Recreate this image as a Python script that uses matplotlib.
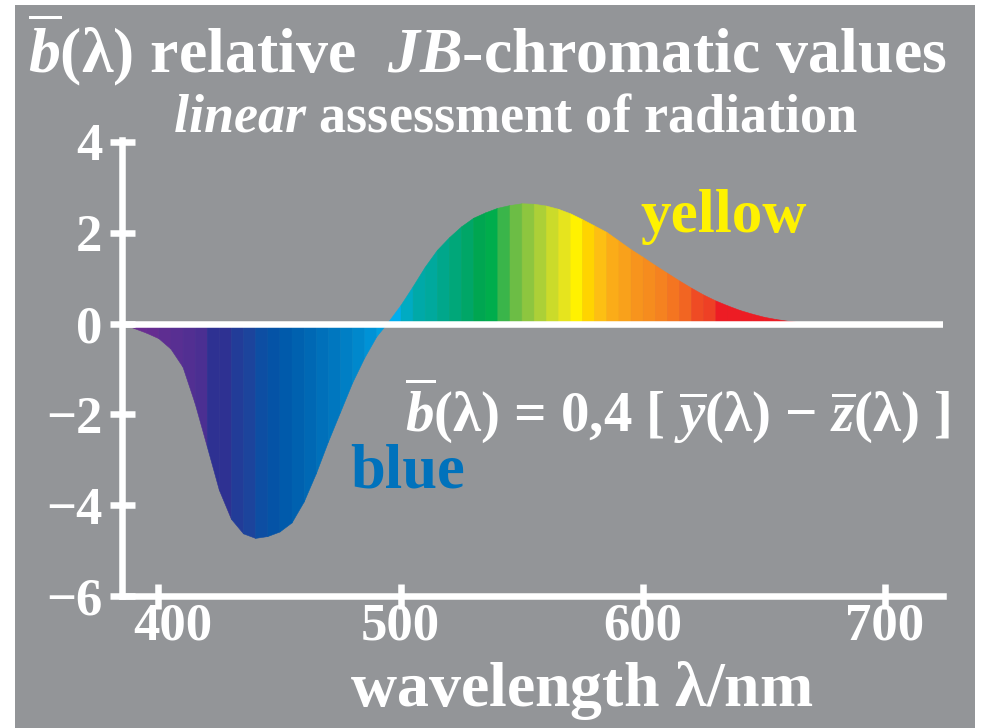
import matplotlib
matplotlib.use("Agg")
import matplotlib.pyplot as plt
from matplotlib.patches import Rectangle
from matplotlib.transforms import ScaledTranslation

# b(lambda) values, 5 nm steps
wavelength = [385, 390, 395, 400, 405, 410, 415, 420, 425, 430, 435, 440, 445, 450,
              455, 460, 465, 470, 475, 480, 485, 490, 495, 500, 505, 510, 515, 520,
              525, 530, 535, 540, 545, 550, 555, 560, 565, 570, 575, 580, 585, 590,
              595, 600, 605, 610, 615, 620, 625, 630, 635, 640, 645, 650, 655, 660,
              665, 670]
b_value = [0.0, -0.1, -0.2, -0.32, -0.55, -0.95, -1.75, -2.7, -3.66, -4.3, -4.62,
           -4.72, -4.68, -4.58, -4.38, -3.92, -3.3, -2.6, -1.95, -1.3, -0.75, -0.28,
           0.05, 0.41, 0.82, 1.25, 1.62, 1.9, 2.14, 2.33, 2.45, 2.55, 2.61, 2.65,
           2.64, 2.6, 2.53, 2.43, 2.3, 2.16, 2.02, 1.83, 1.64, 1.47, 1.29, 1.12,
           0.95, 0.79, 0.64, 0.51, 0.4, 0.3, 0.22, 0.15, 0.1, 0.06, 0.03, 0.0]

# colour of each 5 nm strip (strip i goes from wavelength[i] to wavelength[i+1])
strip_colors = ['#6f2c91', '#6a2d91', '#662d91', '#5e2e91', '#582f92', '#522f92',
                '#4b2f92', '#2e3192', '#2e3192', '#223c98', '#1c449c', '#0d4ea3',
                '#0553a6', '#005aab', '#0061af', '#0068b4', '#0070ba', '#0077bf',
                '#007fc5', '#0088cc', '#0092d6', '#009fe0', '#00aeef', '#00abc2',
                '#00a9a8', '#00a99d', '#00a78b', '#00a779', '#00a667', '#00a651',
                '#00ad4c', '#3ab54a', '#6cbd45', '#8dc63f', '#acd037', '#cbdb2a',
                '#e6e41e', '#fff200', '#ffd400', '#fdbf13', '#fbac18', '#f9a11b',
                '#f7941d', '#f68c1e', '#f58220', '#f47521', '#f26522', '#ef4b24',
                '#ee4025', '#ed1c24', '#ed1c24', '#ed1c24', '#ec1c24', '#ec1c24',
                '#eb1c24', '#ea1c24', '#ea1c24']

x_ticks = [400, 500, 600, 700]
y_ticks = [-6, -4, -2, 0, 2, 4]

gray = '#939598'
W, H = 989, 728

plt.rcParams['font.family'] = 'Liberation Serif'
plt.rcParams['font.weight'] = 'bold'
plt.rcParams['mathtext.fontset'] = 'custom'
plt.rcParams['mathtext.rm'] = 'Liberation Serif:bold'
plt.rcParams['mathtext.bf'] = 'Liberation Serif:bold'
plt.rcParams['mathtext.it'] = 'Liberation Serif:italic:bold'
plt.rcParams['mathtext.sf'] = 'Liberation Serif'
plt.rcParams['mathtext.tt'] = 'Liberation Serif:italic'


def px(x, y):
    # pixel position (from top left) -> figure fraction
    return x / W, 1 - y / H


fig = plt.figure(figsize=(W / 100, H / 100), dpi=100, facecolor='white')
fig.patches.append(Rectangle(px(15, 728), (975 - 15) / W, (728 - 5) / H,
                             transform=fig.transFigure, facecolor=gray,
                             edgecolor='none', zorder=-10))

ax = fig.add_axes([122 / W, (H - 596) / H, (943 - 122) / W, (596 - 139.7) / H])
ax.set_facecolor('none')

for i in range(len(wavelength) - 1):
    ax.fill_between(wavelength[i:i + 2], b_value[i:i + 2], 0,
                    facecolor=strip_colors[i], edgecolor=strip_colors[i], lw=0.4)

ax.axhline(0, color='white', lw=4.7, zorder=5)

ax.set_xlim(385, 724)
ax.set_ylim(-6, 4.05)
ax.set_xticks(x_ticks)
ax.set_yticks(y_ticks)

for s in ['top', 'right']:
    ax.spines[s].set_visible(False)
for s in ['left', 'bottom']:
    ax.spines[s].set_color('white')
    ax.spines[s].set_linewidth(4.7)
    ax.spines[s].set_zorder(6)

ax.tick_params(axis='both', direction='inout', length=18, width=4.7,
               color='white', labelcolor='white', labelsize=38)
ax.tick_params(axis='y', pad=5)
ax.tick_params(axis='x', pad=-4)

# the 400 label sits a little right of its tick, clear of the y axis
lab = ax.xaxis.get_major_ticks()[0].label1
lab.set_transform(lab.get_transform() + ScaledTranslation(0.14, 0, fig.dpi_scale_trans))

# titles and labels
fig.text(*px(28, 72), r"$\overline{\mathit{b}}\mathsf{(\lambda)}$ relative  $\mathit{JB}$-chromatic values",
         color='white', fontsize=46, ha='left', va='baseline')
fig.text(*px(516, 131), r"$\mathit{linear}$ assessment of radiation",
         color='white', fontsize=39, ha='center', va='baseline')
fig.text(*px(640, 232), "yellow", color='#fff200', fontsize=44, ha='left', va='baseline')
fig.text(*px(350, 488), "blue", color='#0072bc', fontsize=45, ha='left', va='baseline')
fig.text(*px(405, 432),
         r"$\overline{\mathit{b}}\mathsf{(\lambda)}$ = 0,4 [ $\overline{\mathtt{y}}\mathsf{(\lambda)}$ − $\overline{\mathtt{z}}\mathsf{(\lambda)}$ ]",
         color='white', fontsize=41, ha='left', va='baseline')
fig.text(*px(582, 706), r"wavelength $\mathsf{\lambda}$/nm", color='white', fontsize=46,
         ha='center', va='baseline')

fig.savefig('out.png', dpi=100, facecolor='white')
